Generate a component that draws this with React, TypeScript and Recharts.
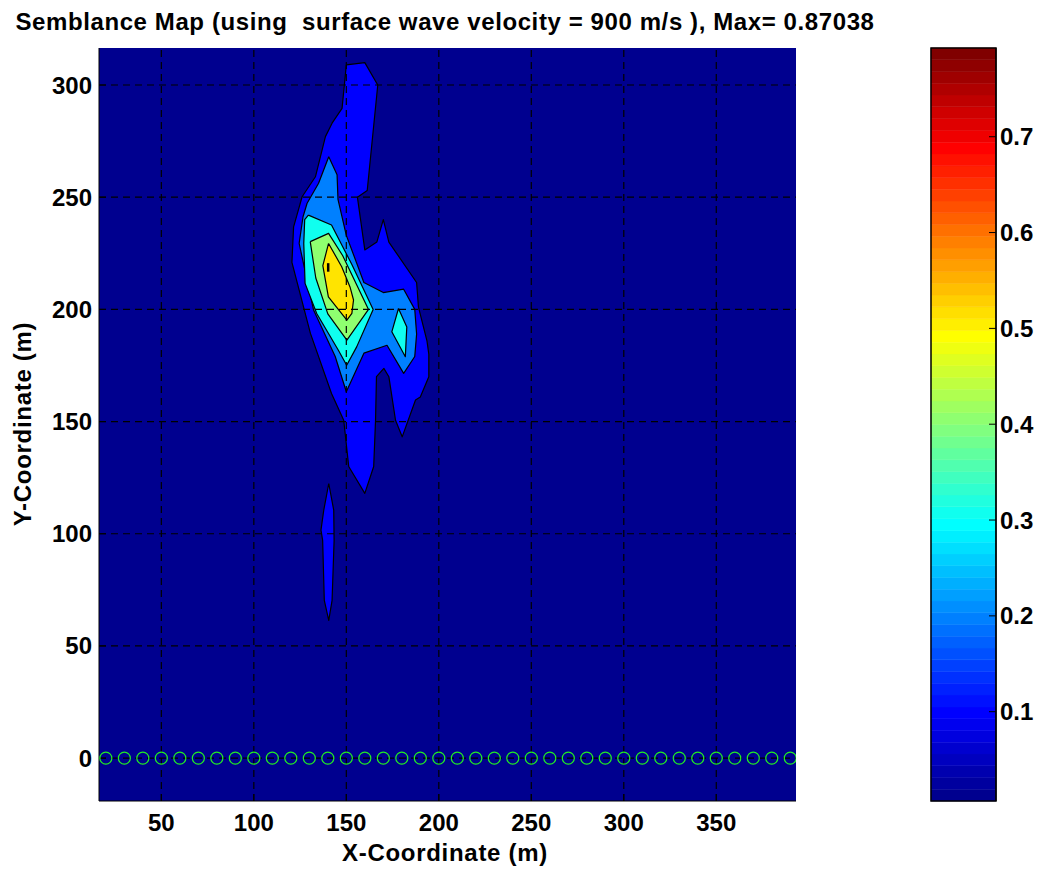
import React from "react";
import {
  ScatterChart,
  Scatter,
  XAxis,
  YAxis,
  CartesianGrid,
  ComposedChart,
  ReferenceArea,
} from "recharts";

const FONT = "'Liberation Sans', Arial, Helvetica, sans-serif";

// axes
const X_DOMAIN: [number, number] = [16.3, 393.1];
const Y_DOMAIN: [number, number] = [-19.1, 316.5];
const X_TICKS = [50, 100, 150, 200, 250, 300, 350];
const Y_TICKS = [0, 50, 100, 150, 200, 250, 300];

// receivers along y = 0
const RECEIVER_X = [
  20, 30, 40, 50, 60, 70, 80, 90, 100, 110, 120, 130, 140, 150, 160, 170, 180,
  190, 200, 210, 220, 230, 240, 250, 260, 270, 280, 290, 300, 310, 320, 330,
  340, 350, 360, 370, 380, 390,
];

// colorbar
const CBAR_DOMAIN: [number, number] = [0.0068, 0.7926];
const CBAR_TICKS = [0.1, 0.2, 0.3, 0.4, 0.5, 0.6, 0.7];

type Pt = [number, number];

// contour outlines (x, y in metres)
const LEVEL1_MAIN: Pt[] = [
  [150, 309], [160, 310], [167, 300], [161.3, 253], [156, 250], [160, 226.5],
  [166.5, 230], [170, 240], [173, 230], [188, 212], [189, 201], [193.6, 186],
  [194.6, 180], [194.6, 170], [190, 161], [187.4, 159.6], [180.2, 143.2],
  [176.6, 150.6], [173, 170], [170.3, 173.7], [166.3, 170], [165.8, 150.6],
  [164.8, 130], [160, 118], [151.3, 130], [148.6, 150.6], [142, 162.5],
  [130.6, 189.3], [120.6, 221], [121.5, 236.8], [126.1, 250.2], [133.3, 259.1],
  [138.7, 277], [142.3, 283], [147.7, 289.6],
];
const LEVEL1_LOW: Pt[] = [
  [140.5, 122.4], [143.2, 110.5], [143.4, 97], [142.3, 70.3], [140.5, 61.4],
  [138.1, 70.3], [137.2, 97.1], [136.3, 101.6], [137.8, 110.5],
];
const LEVEL2: Pt[] = [
  [140.5, 268], [145, 260], [145.5, 249], [150, 233], [159.5, 212],
  [170, 207.5], [181, 209], [187, 200], [188, 189], [187, 179], [181, 171.5],
  [172, 184], [159.5, 180.5], [150, 163.3], [144, 179], [132.3, 199.7],
  [124.5, 229.4], [126.6, 241.3], [128.8, 247.3], [135, 256.2],
];
const LEVEL3_MAIN: Pt[] = [
  [129.5, 242], [142, 237.6], [153, 220], [164.5, 200], [155.6, 183.3],
  [150.2, 175.1], [145.7, 181.8], [134, 198.2], [127.7, 211.6], [127, 229.4],
  [127.5, 240],
];
const LEVEL3_BLOB: Pt[] = [
  [178.2, 200.4], [182.7, 192.2], [181.9, 178.9], [174.6, 190],
];
const LEVEL4: Pt[] = [
  [130.5, 230.2], [140.4, 233.9], [148, 224], [162, 200], [150.3, 186.3],
  [140, 198], [133.5, 214],
];
const LEVEL5: Pt[] = [
  [140.4, 229.4], [147.5, 219], [152, 210], [153.9, 204.2], [153, 198.2],
  [150.3, 195.2], [140.3, 205.6], [137.3, 219.5],
];
const LEVEL6: Pt[] = [[140.2, 216.8], [140.2, 220.6]];

const CONTOURS = [
  { id: "l1a", fill: "#0000FF", pts: LEVEL1_MAIN },
  { id: "l1b", fill: "#0000FF", pts: LEVEL1_LOW },
  { id: "l2", fill: "#0080FF", pts: LEVEL2 },
  { id: "l3a", fill: "#10FFEF", pts: LEVEL3_MAIN },
  { id: "l3b", fill: "#10FFEF", pts: LEVEL3_BLOB },
  { id: "l4", fill: "#8FFF70", pts: LEVEL4 },
  { id: "l5", fill: "#FFE400", pts: LEVEL5 },
];

const closed = (pts: Pt[]) =>
  [...pts, pts[0]].map(([x, y]) => ({ x, y }));

// matlab jet colormap, 64 entries
function jet(i: number) {
  const r = i <= 24 ? 0 : i <= 40 ? (i - 24) / 16 : i <= 55 ? 1 : (72 - i) / 16;
  const g = i <= 8 ? 0 : i <= 24 ? (i - 8) / 16 : i <= 39 ? 1 : i <= 55 ? (56 - i) / 16 : 0;
  const b = i <= 8 ? (i + 8) / 16 : i <= 23 ? 1 : i <= 39 ? (40 - i) / 16 : 0;
  const h = (v: number) => Math.round(v * 255).toString(16).padStart(2, "0");
  return `#${h(r)}${h(g)}${h(b)}`;
}

const NoDot = () => <g />;

const Ring = (props: any) => (
  <circle cx={props.cx} cy={props.cy} r={6} fill="none" stroke="#22EE22" strokeWidth={1.2} />
);

const tickStyle = { fill: "#000", fontSize: 24, fontWeight: "bold", fontFamily: FONT };

export default function App() {
  const bands = Array.from({ length: 64 }, (_, k) => {
    const step = (CBAR_DOMAIN[1] - CBAR_DOMAIN[0]) / 64;
    return { lo: CBAR_DOMAIN[0] + k * step, hi: CBAR_DOMAIN[0] + (k + 1) * step, color: jet(k + 1) };
  });

  return (
    <div style={{ position: "absolute", left: 0, top: 0, width: 1050, height: 871, background: "#fff" }}>
      <div style={{ position: "absolute", left: 0, top: 0 }}>
        <ScatterChart width={1050} height={871} margin={{ top: 48, right: 254, bottom: 30, left: 39 }}>
          <CartesianGrid horizontal={false} vertical={false} fill="#00008F" fillOpacity={1} />
          <XAxis
            type="number"
            dataKey="x"
            domain={X_DOMAIN}
            ticks={X_TICKS}
            allowDataOverflow
            interval={0}
            height={40}
            tickSize={-7}
            tickMargin={20}
            axisLine={{ stroke: "#000" }}
            tickLine={{ stroke: "#000" }}
            tick={tickStyle}
          />
          <XAxis
            xAxisId="top"
            orientation="top"
            type="number"
            domain={X_DOMAIN}
            ticks={X_TICKS}
            allowDataOverflow
            height={0}
            tickSize={-7}
            tick={false}
            axisLine={{ stroke: "#000" }}
            tickLine={{ stroke: "#000" }}
          />
          <YAxis
            type="number"
            dataKey="y"
            domain={Y_DOMAIN}
            ticks={Y_TICKS}
            allowDataOverflow
            interval={0}
            width={60}
            tickSize={-7}
            tickMargin={14}
            axisLine={{ stroke: "#000" }}
            tickLine={{ stroke: "#000" }}
            tick={tickStyle}
          />
          <YAxis
            yAxisId="right"
            orientation="right"
            type="number"
            domain={Y_DOMAIN}
            ticks={Y_TICKS}
            allowDataOverflow
            width={0}
            tickSize={-7}
            tick={false}
            axisLine={{ stroke: "#000" }}
            tickLine={{ stroke: "#000" }}
          />
          {CONTOURS.map((c) => (
            <Scatter
              key={c.id}
              data={closed(c.pts)}
              shape={NoDot}
              line={{ fill: c.fill, stroke: "#000", strokeWidth: 1.2, strokeLinejoin: "round" }}
              isAnimationActive={false}
            />
          ))}
          <Scatter
            data={LEVEL6.map(([x, y]) => ({ x, y }))}
            shape={NoDot}
            line={{ fill: "none", stroke: "#000", strokeWidth: 2.5 }}
            isAnimationActive={false}
          />
          {X_TICKS.map((t) => (
            <Scatter
              key={`gx${t}`}
              data={[{ x: t, y: Y_DOMAIN[0] }, { x: t, y: Y_DOMAIN[1] }]}
              shape={NoDot}
              line={{ fill: "none", stroke: "#000", strokeWidth: 1.2, strokeDasharray: "7 5" }}
              isAnimationActive={false}
            />
          ))}
          {Y_TICKS.map((t) => (
            <Scatter
              key={`gy${t}`}
              data={[{ x: X_DOMAIN[0], y: t }, { x: X_DOMAIN[1], y: t }]}
              shape={NoDot}
              line={{ fill: "none", stroke: "#000", strokeWidth: 1.2, strokeDasharray: "7 5" }}
              isAnimationActive={false}
            />
          ))}
          <Scatter
            data={RECEIVER_X.map((x) => ({ x, y: 0 }))}
            shape={Ring}
            isAnimationActive={false}
          />
        </ScatterChart>
      </div>

      <div style={{ position: "absolute", left: 900, top: 0 }}>
        <ComposedChart
          width={150}
          height={871}
          data={[{ x: 0 }, { x: 1 }]}
          margin={{ top: 48, right: 0, bottom: 70, left: 31 }}
        >
          <XAxis type="number" dataKey="x" domain={[0, 1]} hide />
          <YAxis
            yAxisId="cb"
            orientation="right"
            type="number"
            domain={CBAR_DOMAIN}
            ticks={CBAR_TICKS}
            allowDataOverflow
            interval={0}
            width={54}
            tickSize={-7}
            tickMargin={11}
            axisLine={{ stroke: "#000" }}
            tickLine={{ stroke: "#000" }}
            tick={tickStyle}
          />
          <YAxis
            yAxisId="cbl"
            orientation="left"
            type="number"
            domain={CBAR_DOMAIN}
            ticks={CBAR_TICKS}
            allowDataOverflow
            width={0}
            tickSize={-7}
            tick={false}
            axisLine={{ stroke: "#000" }}
            tickLine={{ stroke: "#000" }}
          />
          {bands.map((b, k) => (
            <ReferenceArea
              key={k}
              yAxisId="cb"
              x1={0}
              x2={1}
              y1={b.lo}
              y2={b.hi}
              fill={b.color}
              fillOpacity={1}
              stroke={b.color}
              strokeWidth={0.5}
            />
          ))}
          <ReferenceArea
            yAxisId="cb"
            x1={0}
            x2={1}
            y1={CBAR_DOMAIN[0]}
            y2={CBAR_DOMAIN[1]}
            fill="none"
            stroke="#000"
            strokeWidth={1.5}
          />
        </ComposedChart>
      </div>

      <svg
        width={1050}
        height={871}
        style={{ position: "absolute", left: 0, top: 0, pointerEvents: "none" }}
        fontFamily={FONT}
        fontWeight="bold"
        fontSize={24}
      >
        <text x={445} y={30} textAnchor="middle" letterSpacing={0.6} style={{ whiteSpace: "pre" }}>
          {"Semblance Map (using  surface wave velocity = 900 m/s ), Max= 0.87038"}
        </text>
        <text x={445} y={861} textAnchor="middle" letterSpacing={0.7}>
          X-Coordinate (m)
        </text>
        <text transform="translate(31,424) rotate(-90)" textAnchor="middle" letterSpacing={0.7}>
          Y-Coordinate (m)
        </text>
      </svg>
    </div>
  );
}
